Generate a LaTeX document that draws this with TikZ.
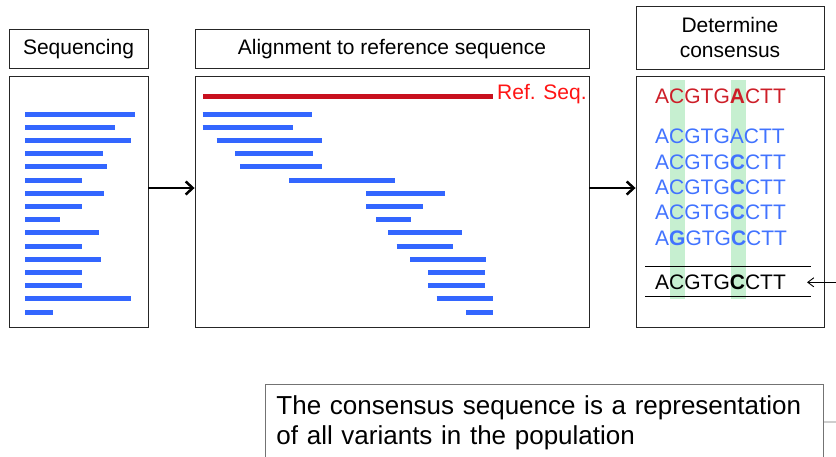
\documentclass[tikz,border=0pt]{standalone}
\usepackage{fontspec}
\setmainfont{Liberation Sans}
\usetikzlibrary{arrows.meta}

\definecolor{readblue}{RGB}{51,102,255}
\definecolor{refred}{RGB}{200,16,30}
\definecolor{labelred}{RGB}{255,20,20}
\definecolor{seqred}{RGB}{205,30,40}
\definecolor{seqblue}{RGB}{65,115,255}
\definecolor{markgreen}{RGB}{198,239,208}

\tikzset{
    panel/.style={draw=black!85, line width=0.9pt, inner sep=0pt},
    headbox/.style={panel, align=center, font=\fontsize{21}{25}\selectfont},
    read/.style={readblue, line width=5pt},
    flow/.style={line width=2.5pt, -{Straight Barb[length=7pt,width=13pt]}},
    seqtext/.style={anchor=west, inner sep=0pt, font=\fontsize{21}{25}\selectfont},
}

\begin{document}
\begin{tikzpicture}[x=1pt, y=-1pt]
        \useasboundingbox (0,0) rectangle (836,456);

        \node[headbox, minimum width=139pt, minimum height=39pt] (seqhead) at (78.5,49) {Sequencing};
        \node[headbox, minimum width=394pt, minimum height=39pt] (alnhead) at (392,49) {Alignment to reference sequence};
        \node[headbox, minimum width=188pt, minimum height=63pt] (conhead) at (730,37.5) {Determine\\consensus};

        \node[panel, minimum width=139pt, minimum height=251pt] (seqbox) at (78.5,201.5) {};
        \node[panel, minimum width=394pt, minimum height=251pt] (alnbox) at (392,201.5) {};
        \node[panel, minimum width=188pt, minimum height=251pt] (conbox) at (730,201.5) {};

        % raw reads
        \foreach \e [count=\i] in {134.7,115,130.7,103,107.3,82,104,82,60,99,82,101,82,82,130.7,52.7}
            \draw[read] (25,{114+13.2*(\i-1)}) -- (\e,{114+13.2*(\i-1)});

        % aligned reads
        \draw[refred, line width=5pt] (203,96) -- (493,96);
        \node[anchor=west, inner sep=0pt, text=labelred, font=\fontsize{21}{25}\selectfont] (reflabel) at (497,94) {Ref. Seq.};
        \foreach \s/\e [count=\i] in {202.7/312.3, 202.7/292.7, 216.7/322, 235.3/313, 240/322, 289.3/394.7, 366.3/445, 366.3/423,
                                      376.3/411, 388/461.7, 396.7/453, 410.3/486, 428/484.7, 428/484.7, 436.7/493, 466/493}
            \draw[read] (\s,{114+13.2*(\i-1)}) -- (\e,{114+13.2*(\i-1)});

        % consensus
        \fill[markgreen] (670,80) rectangle (685,299);
        \fill[markgreen] (731,80) rectangle (746,299);
        \node[seqtext, text=seqred] (refrow) at (655,96.7) {ACGTG\textbf{A}CTT};
        \node[seqtext, text=seqblue] (rowa) at (655,136.7) {ACGTGACTT};
        \node[seqtext, text=seqblue] (rowb) at (655,162.3) {ACGTG\textbf{C}CTT};
        \node[seqtext, text=seqblue] (rowc) at (655,187.3) {ACGTG\textbf{C}CTT};
        \node[seqtext, text=seqblue] (rowd) at (655,212.3) {ACGTG\textbf{C}CTT};
        \node[seqtext, text=seqblue] (rowe) at (655,238.3) {A\textbf{G}GTG\textbf{C}CTT};
        \node[seqtext] (cons) at (655,282.3) {ACGTG\textbf{C}CTT};
        \draw[line width=0.9pt] (645,266.7) -- (811,266.7);
        \draw[line width=0.9pt] (645,296) -- (811,296);

        \coordinate (flowrow) at (0,188);
        \draw[flow] (seqbox.east |- flowrow) -- (alnbox.west |- flowrow);
        \draw[flow] (alnbox.east |- flowrow) -- (conbox.west |- flowrow);

        \node[panel, draw=black!55, anchor=north west, inner xsep=11pt, text width=536pt, minimum height=76pt, align=left,
              font=\fontsize{26}{30}\selectfont] (note) at (265,384) {The consensus sequence is a representation\\of all variants in the population};

        \coordinate (edgea) at (836,282.3);
        \coordinate (edgeb) at (836,422);
        \draw[line width=0.9pt, -{Straight Barb[length=6pt,width=9pt]}, shorten >=21pt] (edgea) -- (cons.east);
        \draw[black!55, line width=0.9pt] (note) -- (edgeb);
    \end{tikzpicture}
\end{document}
